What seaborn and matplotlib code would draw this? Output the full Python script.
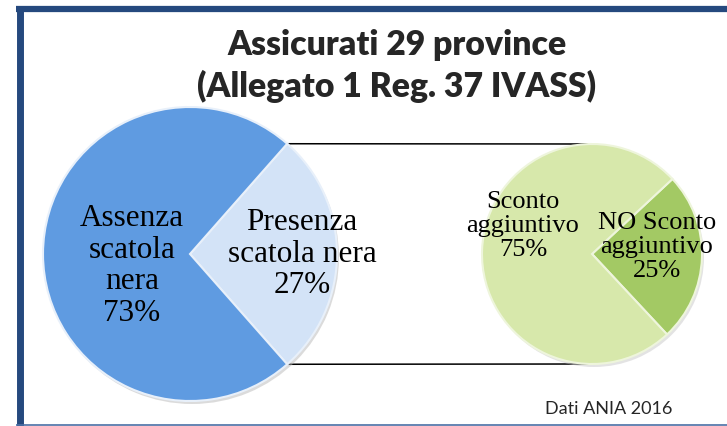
import matplotlib.pyplot as plt
import seaborn as sns
import numpy as np
from matplotlib.lines import Line2D

# dati
titolo = "Assicurati 29 province\n(Allegato 1 Reg. 37 IVASS)"
fonte = "Dati ANIA 2016"

scatola_labels = ["Presenza\nscatola nera", "Assenza\nscatola\nnera"]
scatola_valori = [27, 73]
scatola_colori = ["#d3e3f7", "#5f9be1"]

sconto_labels = ["NO Sconto\naggiuntivo", "Sconto\naggiuntivo"]
sconto_valori = [25, 75]
sconto_colori = ["#a3c964", "#d7e8ab"]

sns.set_theme(style="white")
plt.rcParams['font.family'] = ['Liberation Serif', 'DejaVu Serif']

W, H = 727, 427
fig = plt.figure(figsize=(W / 100, H / 100), dpi=100)
ax = fig.add_axes([0, 0, 1, 1])
ax.set_xlim(0, W)
ax.set_ylim(0, H)
ax.set_aspect('equal')
ax.axis('off')

# posizioni (pixel, y verso l'alto)
c1, r1 = (190, 172), 147
c2, r2 = (592, 172), 110
start1 = -scatola_valori[0] / 100 * 180
start2 = -47

# ombre
ax.pie([1], radius=r1, center=(c1[0] + 2, c1[1] - 3), colors=["#b8b8b8"],
       wedgeprops=dict(alpha=0.5, linewidth=0))
ax.pie([1], radius=r2, center=(c2[0] + 2, c2[1] - 3), colors=["#c8c8c8"],
       wedgeprops=dict(alpha=0.5, linewidth=0))

ax.pie(scatola_valori, radius=r1, center=c1, colors=scatola_colori,
       startangle=start1, counterclock=True,
       wedgeprops=dict(edgecolor="#e8f0fa", linewidth=1.5))
ax.pie(sconto_valori, radius=r2, center=c2, colors=sconto_colori,
       startangle=start2, counterclock=True,
       wedgeprops=dict(edgecolor="#eef5dc", linewidth=1.5))
ax.set_xlim(0, W)
ax.set_ylim(0, H)

# linee di collegamento
a = np.deg2rad(-start1)
p_top = (c1[0] + r1 * np.cos(a), c1[1] + r1 * np.sin(a))
p_bot = (c1[0] + r1 * np.cos(-a), c1[1] + r1 * np.sin(-a))
ax.plot([p_top[0], c2[0]], [p_top[1], c2[1] + r2], color="black", lw=1.1, zorder=0)
ax.plot([p_bot[0], c2[0]], [p_bot[1], c2[1] - r2], color="black", lw=1.1, zorder=0)

# etichette
def etichetta(x, y, lab, val, fs, ls):
    ax.text(x, y, f"{lab}\n{val}%", ha="center", va="center", fontsize=fs,
            linespacing=ls, color="black")

etichetta(132, H - 266, scatola_labels[1], scatola_valori[1], 22.5, 1.13)
etichetta(302, H - 254, scatola_labels[0], scatola_valori[0], 22.5, 1.13)
etichetta(523, H - 226, sconto_labels[1], sconto_valori[1], 19, 1.12)
etichetta(657, H - 247, sconto_labels[0], sconto_valori[0], 19, 1.12)

# titolo e fonte
ax.text(397, H - 66, titolo, ha="center", va="center", fontsize=24.3,
        fontweight="heavy", family=["Lato", "DejaVu Sans"], linespacing=1.36)
ax.text(609, H - 409, fonte, ha="center", va="center", fontsize=13,
        family=["Lato", "DejaVu Sans"])

# cornice
cornice = "#25497e"
fig.add_artist(Line2D([19.5 / W, 19.5 / W], [0, 1 - 10 / H], color=cornice, lw=5,
                      solid_capstyle="butt", transform=fig.transFigure))
fig.add_artist(Line2D([16 / W, 1], [1 - 10 / H, 1 - 10 / H], color=cornice, lw=4.5,
                      solid_capstyle="butt", transform=fig.transFigure))
fig.add_artist(Line2D([16 / W, 1], [1.2 / H, 1.2 / H], color="#4a6fa5", lw=1.2,
                      solid_capstyle="butt", transform=fig.transFigure))

fig.savefig("out.png", dpi=100, facecolor="white")
